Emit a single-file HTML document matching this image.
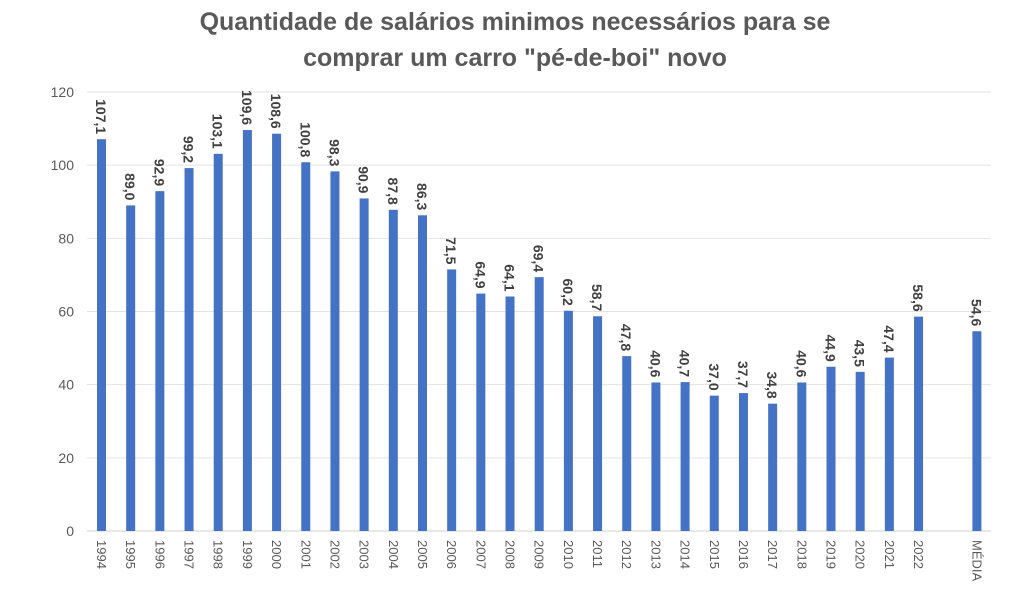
<!DOCTYPE html>
<html><head><meta charset="utf-8"><style>
body{margin:0;background:#fff}
svg{display:block;font-family:"Liberation Sans",sans-serif}
</style></head><body>
<svg width="1024" height="598" xmlns="http://www.w3.org/2000/svg">
<text x="515" y="30" text-anchor="middle" font-size="25" font-weight="bold" fill="#595959">Quantidade de salários minimos necessários para se</text>
<text x="515" y="66" text-anchor="middle" font-size="25" font-weight="bold" fill="#595959">comprar um carro "pé-de-boi" novo</text>
<g id="g"></g>
</svg>
<script>
const vals=[107.1,89.0,92.9,99.2,103.1,109.6,108.6,100.8,98.3,90.9,87.8,86.3,71.5,64.9,64.1,69.4,60.2,58.7,47.8,40.6,40.7,37.0,37.7,34.8,40.6,44.9,43.5,47.4,58.6];
const g=document.getElementById('g');let s='';
const y0=531,k=439/120;
for(let v=0;v<=120;v+=20){const y=y0-v*k;
s+=`<line x1="87" x2="991" y1="${y}" y2="${y}" stroke="${v?'#e3e3e3':'#d0d0d0'}" stroke-width="1"/>`;
s+=`<text x="74" y="${y+5}" text-anchor="end" font-size="14" fill="#595959">${v}</text>`;}
const items=vals.map((v,i)=>[1994+i+'',v,101.5+i*29.18]);
items.push(['MÉDIA',54.6,101.5+30*29.18]);
for(const [l,v,x] of items){const h=v*k;
s+=`<rect x="${x-4.5}" y="${y0-h}" width="9" height="${h}" fill="#4472C4"/>`;
s+=`<text transform="translate(${x-4.5},${y0+9}) rotate(90)" font-size="13" fill="#595959">${l}</text>`;
s+=`<text transform="translate(${x-5.5},${y0-h-5}) rotate(90)" text-anchor="end" font-size="14" font-weight="bold" fill="#404040">${v.toFixed(1).replace('.',',')}</text>`;}
g.innerHTML=s;
</script>
</body></html>
